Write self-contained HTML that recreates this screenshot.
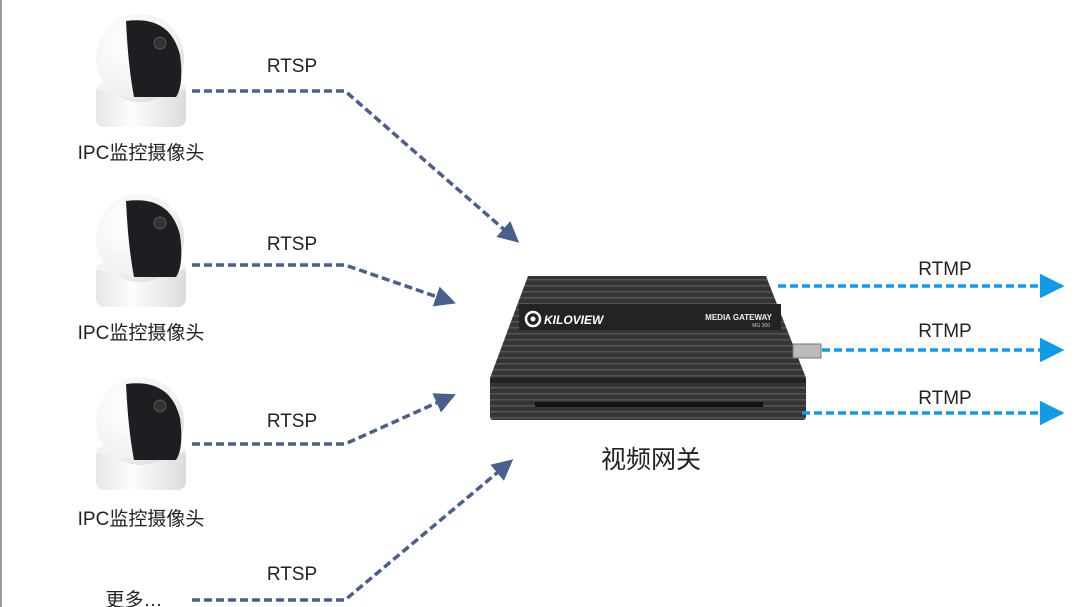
<!DOCTYPE html>
<html><head><meta charset="utf-8"><style>
html,body{margin:0;padding:0;background:#fff;}
svg{display:block;}
text{font-family:"Liberation Sans","Noto Sans CJK SC",sans-serif;}
</style></head><body>
<svg width="1080" height="607" viewBox="0 0 1080 607" xmlns="http://www.w3.org/2000/svg">
<defs>
<radialGradient id="sph" cx="0.35" cy="0.35" r="0.8">
<stop offset="0" stop-color="#ffffff"/><stop offset="0.7" stop-color="#f1f1f1"/><stop offset="1" stop-color="#cfcfcf"/>
</radialGradient>
<linearGradient id="base" x1="0" x2="1">
<stop offset="0" stop-color="#e6e6e6"/><stop offset="0.4" stop-color="#fdfdfd"/><stop offset="1" stop-color="#dcdcdc"/>
</linearGradient>
<linearGradient id="top" x1="0" y1="0" x2="0" y2="1">
<stop offset="0" stop-color="#3a3a3a"/><stop offset="1" stop-color="#2a2a2a"/>
</linearGradient>
<pattern id="ribs" width="6" height="6" patternUnits="userSpaceOnUse">
<rect width="6" height="6" fill="#353535"/><rect y="3" width="6" height="1.5" fill="#555"/>
</pattern>
<marker id="ah" viewBox="0 0 10 10" refX="8" refY="5" markerWidth="6" markerHeight="6" orient="auto" markerUnits="strokeWidth">
<path d="M0,0 L10,5 L0,10 Z" fill="#4a5f8e"/></marker>
<marker id="bh" viewBox="0 0 10 10" refX="9" refY="5" markerWidth="9" markerHeight="7" orient="auto" markerUnits="strokeWidth">
<path d="M0,0 L10,5 L0,10 Z" fill="#119be6"/></marker>
<g id="cam">
<rect x="96" y="70" width="90" height="42" rx="8" fill="url(#base)"/>
<ellipse cx="141" cy="72" rx="45" ry="8" fill="#f3f3f3"/>
<circle cx="140" cy="43" r="44" fill="url(#sph)"/>
<path d="M126,6 Q170,0 180,40 Q184,70 176,82 L134,82 Q128,50 126,6 Z" fill="#1e1e22"/>
<circle cx="160" cy="28" r="6" fill="#333" stroke="#555"/>
</g>
</defs>
<line x1="1" y1="0" x2="1" y2="607" stroke="#9a9a9a" stroke-width="2"/>

<use href="#cam" transform="translate(0,15)"/>
<use href="#cam" transform="translate(0,195)"/>
<use href="#cam" transform="translate(0,378)"/>

<g font-size="19" fill="#222" text-anchor="middle">
<text x="141" y="159">IPC监控摄像头</text>
<text x="141" y="339">IPC监控摄像头</text>
<text x="141" y="525">IPC监控摄像头</text>
<text x="134" y="606">更多…</text>
<text x="292" y="72">RTSP</text>
<text x="292" y="250">RTSP</text>
<text x="292" y="427">RTSP</text>
<text x="292" y="580">RTSP</text>
<text x="945" y="275">RTMP</text>
<text x="945" y="337">RTMP</text>
<text x="945" y="404">RTMP</text>
<text x="651" y="468" font-size="25">视频网关</text>
</g>

<g fill="none" stroke="#4a5f8e" stroke-width="3.5" stroke-dasharray="8,4">
<polyline points="192,91 345,91 516,240" marker-end="url(#ah)"/>
<polyline points="192,265 345,265 452,302" marker-end="url(#ah)"/>
<polyline points="192,444 345,444 452,396" marker-end="url(#ah)"/>
<polyline points="192,600 345,600 510,462" marker-end="url(#ah)"/>
</g>

<!-- device -->
<polygon points="528,276 766,276 806,378 490,378" fill="url(#ribs)"/>
<rect x="519" y="304" width="262" height="26" fill="#232323"/>
<circle cx="533" cy="319" r="7" fill="none" stroke="#fff" stroke-width="2.5"/>
<circle cx="533" cy="319" r="2.5" fill="#fff"/>
<text x="544" y="324" font-size="12" font-weight="bold" fill="#fff" font-style="italic">KILOVIEW</text>
<text x="772" y="320" font-size="8" font-weight="bold" fill="#eee" text-anchor="end">MEDIA GATEWAY</text>
<text x="770" y="327" font-size="5" fill="#ccc" text-anchor="end">MG 300</text>
<rect x="490" y="378" width="316" height="42" rx="3" fill="url(#ribs)"/>
<rect x="490" y="378" width="316" height="5" fill="#222"/>
<rect x="535" y="402" width="228" height="5" fill="#111"/>
<rect x="793" y="344" width="28" height="14" fill="#bbb" stroke="#777"/>

<g fill="none" stroke="#119be6" stroke-width="3.5" stroke-dasharray="8,4">
<line x1="778" y1="286" x2="1062" y2="286" marker-end="url(#bh)"/>
<line x1="822" y1="350" x2="1062" y2="350" marker-end="url(#bh)"/>
<line x1="802" y1="413" x2="1062" y2="413" marker-end="url(#bh)"/>
</g>
</svg>
</body></html>
